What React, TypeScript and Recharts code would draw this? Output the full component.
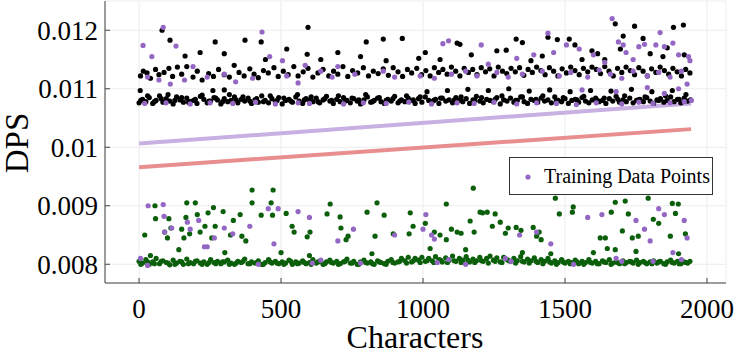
import React from 'react';
import { ScatterChart, Scatter, XAxis, YAxis, CartesianGrid, Label } from 'recharts';

// x: characters, y: DPS x 1000
const xTicks = [0, 500, 1000, 1500, 2000];
const yTicks = [0.008, 0.009, 0.01, 0.011, 0.012];

const blackLowerBand: [number, number][] = [
  [0,10.76],[12,10.82],[24,10.78],[36,10.85],[48,10.75],[60,10.8],[72,10.88],[84,10.77],[96,10.83],[108,10.79],[120,10.74],[132,10.86],[144,10.81],[156,10.77],[168,10.84],[180,10.78],[192,10.8],[204,10.75],[216,10.87],[228,10.82],[240,10.76],[252,10.79],[264,10.85],[276,10.81],[288,10.74],[300,10.83],[312,10.78],[324,10.8],[336,10.86],[348,10.76],[360,10.82],[372,10.79],[384,10.84],[396,10.75],[408,10.81],[420,10.77],[432,10.88],[444,10.8],[456,10.76],[468,10.83],[480,10.78],[492,10.85],[504,10.74],[516,10.8],[528,10.82],[540,10.77],[552,10.86],[564,10.79],[576,10.75],[588,10.83],[600,10.8],[612,10.78],[624,10.84],[636,10.76],[648,10.81],[660,10.87],[672,10.79],[684,10.75],[696,10.82],[708,10.78],[720,10.85],[732,10.8],[744,10.76],[756,10.83],[768,10.79],[780,10.74],[792,10.81],[804,10.86],[816,10.77],[828,10.8],[840,10.84],[852,10.78],[864,10.75],[876,10.82],[888,10.79],[900,10.87],[912,10.76],[924,10.81],[936,10.78],[948,10.84],[960,10.8],[972,10.75],[984,10.83],[996,10.77],[1008,10.86],[1020,10.8],[1032,10.78],[1044,10.82],[1056,10.75],[1068,10.84],[1080,10.79],[1092,10.81],[1104,10.76],[1116,10.85],[1128,10.8],[1140,10.78],[1152,10.83],[1164,10.75],[1176,10.81],[1188,10.87],[1200,10.79],[1212,10.76],[1224,10.82],[1236,10.8],[1248,10.78],[1260,10.85],[1272,10.74],[1284,10.81],[1296,10.79],[1308,10.84],[1320,10.77],[1332,10.8],[1344,10.86],[1356,10.78],[1368,10.75],[1380,10.82],[1392,10.8],[1404,10.77],[1416,10.84],[1428,10.79],[1440,10.81],[1452,10.76],[1464,10.86],[1476,10.8],[1488,10.78],[1500,10.83],[1512,10.75],[1524,10.8],[1536,10.82],[1548,10.77],[1560,10.85],[1572,10.79],[1584,10.76],[1596,10.81],[1608,10.84],[1620,10.78],[1632,10.8],[1644,10.75],[1656,10.83],[1668,10.79],[1680,10.87],[1692,10.77],[1704,10.81],[1716,10.78],[1728,10.84],[1740,10.76],[1752,10.8],[1764,10.82],[1776,10.78],[1788,10.85],[1800,10.79],[1812,10.75],[1824,10.81],[1836,10.83],[1848,10.77],[1860,10.8],[1872,10.86],[1884,10.78],[1896,10.82],[1908,10.76],[1920,10.84],[1932,10.79],[1942,10.81],
  [6,10.8],[30,10.88],[54,10.78],[78,10.83],[102,10.9],[126,10.8],[150,10.85],[174,10.77],[198,10.82],[222,10.89],[246,10.79],[270,10.84],[294,10.78],[318,10.9],[342,10.81],[366,10.86],[390,10.79],[414,10.83],[438,10.78],[462,10.88],[486,10.8],[510,10.84],[534,10.79],[558,10.9],[582,10.81],[606,10.86],[630,10.78],[654,10.83],[678,10.8],[702,10.88],[726,10.79],[750,10.84],[774,10.81],[798,10.9],[822,10.78],[846,10.85],[870,10.8],[894,10.83],[918,10.79],[942,10.88],[966,10.81],[990,10.86],[1014,10.95],[1038,10.8],[1062,10.84],[1086,10.97],[1110,10.81],[1134,10.86],[1158,10.99],[1182,10.8],[1206,10.85],[1230,10.97],[1254,10.82],[1278,10.88],[1302,11.0],[1326,10.8],[1350,10.86],[1374,10.96],[1398,10.82],[1422,10.88],[1446,10.98],[1470,10.8],[1494,10.85],[1518,10.95],[1542,10.81],[1566,10.87],[1590,10.97],[1614,10.8],[1638,10.84],[1662,10.96],[1686,10.82],[1710,10.88],[1734,10.99],[1758,10.81],[1782,10.86],[1806,10.95],[1830,10.8],[1854,10.88],[1878,10.97],[1902,10.82],[1926,10.9],[4,10.97],[260,10.97],[300,10.98]
];

const blackUpperBand: [number, number][] = [
  [5,11.22],[15,11.3],[28,11.27],[40,11.18],[58,11.33],[70,11.24],[88,11.28],[105,11.35],[118,11.21],[135,11.37],[150,11.25],[168,11.38],[190,11.2],[205,11.3],[222,11.15],[245,11.26],[262,11.21],[280,11.33],[300,11.24],[318,11.2],[335,11.4],[352,11.28],[370,11.22],[390,11.34],[405,11.25],[420,11.19],[438,11.31],[455,11.27],[475,11.36],[490,11.21],[508,11.3],[525,11.24],[545,11.38],[560,11.22],[578,11.29],[595,11.35],[612,11.2],[630,11.27],[648,11.33],[668,11.22],[685,11.3],[700,11.25],[718,11.38],[735,11.21],[752,11.31],[770,11.27],[790,11.36],[808,11.22],[825,11.3],[842,11.26],[860,11.34],[878,11.23],[895,11.36],[912,11.29],[928,11.21],[945,11.33],[960,11.27],[978,11.35],[995,11.24],[1010,11.31],[1025,11.22],[1040,11.36],[1055,11.28],[1070,11.33],[1085,11.25],[1100,11.37],[1115,11.3],[1130,11.22],[1145,11.35],[1160,11.28],[1175,11.33],[1190,11.24],[1205,11.36],[1220,11.29],[1235,11.34],[1250,11.22],[1265,11.37],[1280,11.3],[1295,11.26],[1310,11.35],[1325,11.29],[1340,11.36],[1355,11.23],[1370,11.33],[1385,11.28],[1400,11.37],[1415,11.31],[1430,11.24],[1445,11.36],[1460,11.3],[1475,11.22],[1490,11.34],[1505,11.27],[1520,11.37],[1535,11.31],[1550,11.24],[1565,11.35],[1580,11.29],[1595,11.37],[1610,11.33],[1625,11.26],[1640,11.38],[1655,11.3],[1670,11.22],[1685,11.35],[1700,11.28],[1715,11.37],[1730,11.31],[1745,11.24],[1760,11.36],[1775,11.3],[1790,11.22],[1805,11.34],[1820,11.28],[1835,11.37],[1850,11.31],[1865,11.25],[1880,11.35],[1895,11.29],[1910,11.22],[1925,11.33],[1940,11.27]
];

const blackOutliers: [number, number][] = [
  [81,12.0],[109,11.83],[162,11.56],[215,11.62],[268,11.8],[300,11.6],[373,11.83],[430,11.8],[445,11.5],[520,11.68],[592,11.59],[595,12.05],[640,11.5],[700,11.62],[780,11.55],[800,11.8],[860,11.85],[870,11.48],[927,11.86],[985,11.52],[1008,11.62],[1060,11.5],[1120,11.78],[1130,11.76],[1170,11.58],[1260,11.65],[1293,11.66],[1328,11.85],[1350,11.79],[1380,11.48],[1420,11.56],[1440,11.88],[1473,11.84],[1515,11.85],[1535,11.75],[1560,11.5],[1595,11.65],[1615,11.6],[1640,11.5],[1677,12.11],[1695,11.68],[1705,11.9],[1745,12.07],[1775,11.86],[1800,11.6],[1845,11.55],[1860,11.7],[1882,12.05],[1917,12.09],[1920,11.58]
];

const purplePoints: [number, number][] = [
  [14,11.74],[45,11.55],[85,12.05],[130,11.73],[190,11.38],[433,11.97],[460,11.55],[505,11.48],[585,11.4],[640,11.3],[700,11.38],[860,11.3],[1070,11.77],[1090,11.82],[1205,11.75],[1230,11.42],[1330,11.52],[1390,11.58],[1440,11.95],[1460,11.62],[1505,11.75],[1550,11.68],[1600,11.58],[1640,11.45],[1666,12.2],[1688,11.8],[1705,11.75],[1715,11.62],[1740,11.5],[1760,11.72],[1780,11.76],[1820,11.75],[1835,11.96],[1850,11.72],[1880,11.78],[1900,11.58],[1935,11.55],[1940,11.48],
  [30,11.2],[70,11.15],[110,11.08],[160,11.15],[240,11.2],[300,11.25],[340,11.12],[400,11.18],[520,11.22],[560,11.1],[680,11.2],[760,11.25],[900,11.2],[990,11.22],[1040,11.18],[1100,11.25],[1150,11.3],[1190,11.22],[1260,11.28],[1300,11.2],[1350,11.25],[1420,11.3],[1480,11.22],[1520,11.28],[1580,11.2],[1620,11.32],[1660,11.25],[1700,11.18],[1740,11.3],[1790,11.22],[1830,11.28],[1870,11.2],[1910,11.3],[1930,11.08],
  [1560,10.98],[1680,10.95],[1790,11.02],[1900,11.0],[1850,10.92],
  [20,10.75],[95,10.76],[180,10.74],[250,10.76],[330,10.75],[410,10.77],[480,10.74],[560,10.76],[600,10.75],[720,10.74],[790,10.76],[870,10.75],[950,10.77],[1030,10.74],[1120,10.76],[1180,10.75],[1250,10.77],[1330,10.74],[1400,10.76],[1470,10.75],[1540,10.73],[1610,10.76],[1700,10.74],[1760,10.77],[1810,10.75],[1870,10.76],[1920,10.78],[1945,10.8],
  [5,8.1],[30,7.98],[32,9.0],[85,9.02],[88,8.82],[90,8.55],[115,8.62],[170,8.72],[180,8.6],[210,8.75],[230,8.3],[240,8.3],[265,8.45],[300,8.62],[330,8.52],[390,8.65],[420,8.0],[455,8.95],[475,8.35],[490,8.95],[560,8.9],[600,8.8],[610,8.02],[640,8.07],[700,8.4],[755,8.6],[780,8.02],[900,8.5],[1000,8.6],[1010,8.85],[1030,8.5],[1040,8.43],[1050,8.03],[1090,8.08],[1150,8.0],[1290,8.1],[1310,8.05],[1340,8.5],[1400,8.55],[1450,8.35],[1530,8.0],[1580,8.8],[1630,8.85],[1680,8.1],[1700,8.05],[1750,8.75],[1780,8.6],[1800,8.4],[1810,8.05],[1830,8.95],[1850,8.85],[1880,8.2],[1920,8.75],[1930,8.45],[1910,8.08]
];

const greenBand: [number, number][] = [
  [0,8.05],[12,8.02],[24,8.08],[36,8.0],[48,8.04],[60,8.1],[72,8.01],[84,8.06],[96,8.03],[108,7.99],[120,8.07],[132,8.02],[144,8.05],[156,8.0],[168,8.09],[180,8.03],[192,8.01],[204,8.06],[216,8.02],[228,8.04],[240,8.0],[252,8.08],[264,8.03],[276,8.05],[288,8.01],[300,8.04],[312,8.07],[324,8.02],[336,8.0],[348,8.05],[360,8.03],[372,8.09],[384,8.01],[396,8.04],[408,8.02],[420,8.06],[432,8.0],[444,8.03],[456,8.08],[468,8.02],[480,8.05],[492,8.01],[504,8.04],[516,8.02],[528,8.07],[540,8.0],[552,8.04],[564,8.02],[576,8.06],[588,8.01],[600,8.03],[612,8.08],[624,8.02],[636,8.05],[648,8.0],[660,8.04],[672,8.07],[684,8.02],[696,8.05],[708,8.01],[720,8.04],[732,8.09],[744,8.02],[756,8.05],[768,8.0],[780,8.04],[792,8.07],[804,8.02],[816,8.04],[828,8.0],[840,8.06],[852,8.03],[864,8.01],[876,8.05],[888,8.08],[900,8.02],[912,8.04],[924,8.1],[936,8.06],[948,8.12],[960,8.04],[972,8.1],[984,8.07],[996,8.12],[1008,8.05],[1020,8.1],[1032,8.06],[1044,8.13],[1056,8.08],[1068,8.04],[1080,8.11],[1092,8.07],[1104,8.14],[1116,8.05],[1128,8.1],[1140,8.07],[1152,8.13],[1164,8.04],[1176,8.09],[1188,8.06],[1200,8.12],[1212,8.05],[1224,8.1],[1236,8.14],[1248,8.07],[1260,8.11],[1272,8.04],[1284,8.12],[1296,8.08],[1308,8.05],[1320,8.1],[1332,8.06],[1344,8.13],[1356,8.04],[1368,8.09],[1380,8.06],[1392,8.11],[1404,8.03],[1416,8.08],[1428,8.05],[1440,8.1],[1452,8.02],[1464,8.06],[1476,8.03],[1488,8.08],[1500,8.02],[1512,8.05],[1524,8.03],[1536,8.07],[1548,8.01],[1560,8.05],[1572,8.03],[1584,8.08],[1596,8.02],[1608,8.05],[1620,8.01],[1632,8.06],[1644,8.03],[1656,8.08],[1668,8.02],[1680,8.04],[1692,8.01],[1704,8.06],[1716,8.03],[1728,8.05],[1740,8.02],[1752,8.07],[1764,8.03],[1776,8.05],[1788,8.01],[1800,8.04],[1812,8.06],[1824,8.02],[1836,8.05],[1848,8.01],[1860,8.04],[1872,8.07],[1884,8.02],[1896,8.05],[1908,8.01],[1920,8.04],[1932,8.02],[1940,8.05],
  [6,8.0],[30,8.04],[54,8.01],[78,8.05],[102,8.02],[126,8.0],[150,8.04],[174,8.01],[198,8.05],[222,8.0],[246,8.03],[270,8.01],[294,8.04],[318,8.0],[342,8.02],[366,8.05],[390,8.01],[414,8.03],[438,8.0],[462,8.04],[486,8.02],[510,8.0],[534,8.05],[558,8.01],[582,8.03],[606,8.0],[630,8.04],[654,8.01],[678,8.03],[702,8.0],[726,8.05],[750,8.02],[774,8.0],[798,8.03],[822,8.01],[846,8.04],[870,8.0],[894,8.03],[918,8.05],[942,8.02],[966,8.06],[990,8.03],[1014,8.06],[1038,8.03],[1062,8.07],[1086,8.03],[1110,8.06],[1134,8.03],[1158,8.07],[1182,8.03],[1206,8.06],[1230,8.02],[1254,8.05],[1278,8.03],[1302,8.06],[1326,8.02],[1350,8.05],[1374,8.02],[1398,8.05],[1422,8.01],[1446,8.04],[1470,8.0],[1494,8.04],[1518,8.01],[1542,8.04],[1566,8.0],[1590,8.03],[1614,8.01],[1638,8.04],[1662,8.0],[1686,8.03],[1710,8.01],[1734,8.04],[1758,8.0],[1782,8.03],[1806,8.01],[1830,8.04],[1854,8.0],[1878,8.03],[1902,8.01],[1926,8.03]
];

const greenScatter: [number, number][] = [
  [20,8.5],[40,8.15],[56,9.0],[58,8.78],[90,8.55],[100,8.45],[105,8.78],[112,8.62],[140,8.25],[150,8.6],[158,8.45],[165,8.8],[168,9.05],[178,8.52],[198,9.05],[205,8.85],[215,8.55],[232,8.65],[243,8.88],[256,8.45],[262,8.97],[268,8.65],[296,8.9],[302,8.2],[322,8.5],[332,8.75],[356,8.85],[362,8.48],[376,8.4],[398,9.27],[398,9.05],[430,8.84],[465,9.05],[472,9.27],[470,8.84],[518,8.87],[539,8.65],[546,8.55],[592,8.47],[602,8.55],[662,8.86],[673,9.03],[708,8.81],[711,8.62],[729,8.42],[736,8.48],[803,8.89],[831,8.48],[838,9.05],[863,8.84],[895,8.52],[951,8.52],[955,8.88],[965,8.65],[1008,8.7],[1025,8.27],[1040,8.55],[1060,8.5],[1082,9.03],[1082,8.42],[1100,8.6],[1120,8.55],[1134,8.53],[1166,8.74],[1177,9.3],[1180,8.55],[1201,8.89],[1210,8.88],[1226,8.89],[1244,8.65],[1254,8.86],[1272,8.72],[1290,8.53],[1300,8.62],[1328,8.63],[1345,8.58],[1388,8.63],[1400,8.48],[1409,8.55],[1416,8.42],[1466,9.13],[1480,8.86],[1526,8.89],[1529,8.98],[1624,8.45],[1642,8.45],[1649,8.27],[1663,8.89],[1677,9.06],[1677,8.25],[1702,8.57],[1712,9.08],[1723,8.86],[1737,8.45],[1758,8.48],[1793,9.13],[1811,8.77],[1830,8.7],[1871,8.48],[1878,9.04],[1889,8.87],[1899,9.03],[1924,8.52],[500,8.2],[600,8.15],[820,8.18],[1150,8.25],[1350,8.2],[1450,8.18],[1600,8.2],[1750,8.22],[1900,8.18]
];

const purpleFitLine: [number, number][] = [[0,10.063],[1944,10.75]];
const redFitLine: [number, number][] = [[0,9.66],[1944,10.31]];

const BLACK = '#000000';
const PURPLE = '#9467c4';
const GREEN = '#0b5f0b';
const PURPLE_LINE = '#c8b0e2';
const RED_LINE = '#e88e8e';
const FONT = '"Liberation Serif", "Times New Roman", serif';

const toPts = (arr: [number, number][]) => arr.map(([x, y]) => ({ x, y: y / 1000 }));

const dot = (color: string) => (p: any) => (
  <circle cx={p.cx} cy={p.cy} r={2.6} fill={color} stroke="none" />
);
const noShape = () => <g />;

const XTitle = () => (
  <text x={415} y={348} textAnchor="middle" fontFamily={FONT} fontSize={32} fill="#000">Characters</text>
);
const YTitle = () => (
  <text x={28} y={143} textAnchor="middle" fontFamily={FONT} fontSize={33} fill="#000" transform="rotate(-90 28 143)">DPS</text>
);

export default function App() {
  const tickStyle = { fontFamily: FONT, fontSize: 27, fill: '#000' };
  return (
    <div style={{ position: 'absolute', left: 0, top: 0, width: 736, height: 355, background: '#fff' }}>
      <ScatterChart width={736} height={355} margin={{ top: 1, right: 10, bottom: 0, left: 0 }}>
        <CartesianGrid stroke="#ececec" strokeWidth={1} />
        <XAxis type="number" dataKey="x" domain={[-120, 2067]} ticks={xTicks} height={72}
          tick={tickStyle} tickSize={-5} tickMargin={21} stroke="#444" allowDataOverflow>
          <Label content={<XTitle />} />
        </XAxis>
        <YAxis type="number" dataKey="y" domain={[0.00768, 0.0125]} ticks={yTicks} width={105}
          tick={tickStyle} tickSize={-5} tickMargin={12} stroke="#444" allowDataOverflow
          tickFormatter={(v: number) => String(v)}>
          <Label content={<YTitle />} />
        </YAxis>
        <XAxis xAxisId="top" orientation="top" type="number" domain={[-120, 2067]} ticks={xTicks}
          height={0} tick={false} tickSize={-5} stroke="#444" />
        <YAxis yAxisId="right" orientation="right" type="number" domain={[0.00768, 0.0125]} ticks={yTicks}
          width={0} tick={false} tickSize={-5} stroke="#444" />
        <Scatter data={toPts(purpleFitLine)} line={{ stroke: PURPLE_LINE, strokeWidth: 4 }} shape={noShape} isAnimationActive={false} />
        <Scatter data={toPts(redFitLine)} line={{ stroke: RED_LINE, strokeWidth: 4 }} shape={noShape} isAnimationActive={false} />
        <Scatter data={toPts(blackLowerBand)} shape={dot(BLACK)} isAnimationActive={false} />
        <Scatter data={toPts(blackUpperBand)} shape={dot(BLACK)} isAnimationActive={false} />
        <Scatter data={toPts(blackOutliers)} shape={dot(BLACK)} isAnimationActive={false} />
        <Scatter data={toPts(greenBand)} shape={dot(GREEN)} isAnimationActive={false} />
        <Scatter data={toPts(greenScatter)} shape={dot(GREEN)} isAnimationActive={false} />
        <Scatter data={toPts(purplePoints)} shape={dot(PURPLE)} isAnimationActive={false} />
      </ScatterChart>
      <div style={{
        position: 'absolute', left: 509, top: 157, width: 204, height: 38, boxSizing: 'border-box',
        border: '1px solid #333', background: '#fff', display: 'flex', alignItems: 'center',
        fontFamily: FONT, fontSize: 20, color: '#000', whiteSpace: 'nowrap'
      }}>
        <svg width={34} height={36} style={{ flex: 'none' }}>
          <circle cx={18} cy={19} r={2.6} fill={PURPLE} />
        </svg>
        <span>Training Data Points</span>
      </div>
    </div>
  );
}
